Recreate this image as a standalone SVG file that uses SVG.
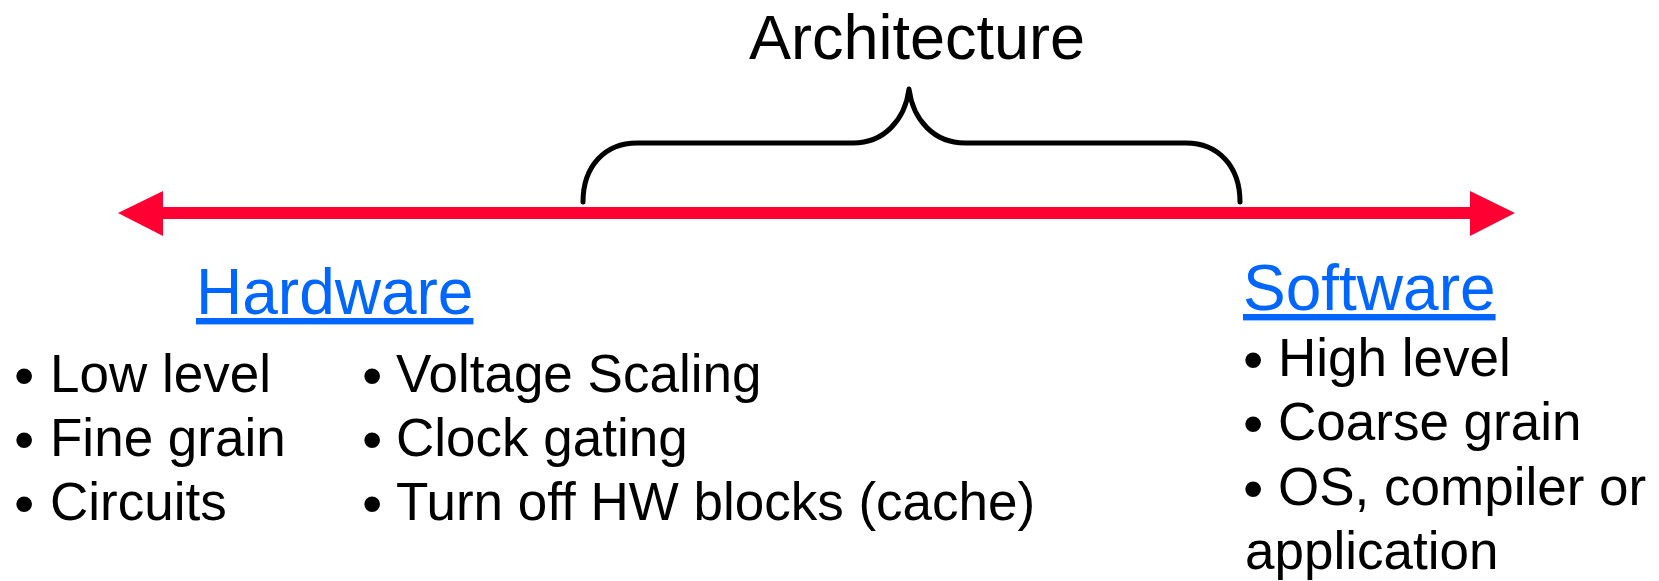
<svg xmlns="http://www.w3.org/2000/svg" width="1659" height="581" viewBox="0 0 1659 581">
<style>
text{font-family:"Liberation Sans",Arial,sans-serif;}
.head{font-size:64px;fill:#0066ff;text-decoration:underline;}
.title{font-size:63px;fill:#000;}
.item{font-size:53px;fill:#000;}
.bul{font-size:58px;}
.brace{fill:none;stroke:#000;stroke-width:5;stroke-linecap:round;stroke-linejoin:round;}
</style>
<rect width="1659" height="581" fill="#fff"/>
<g id="connectors">
<rect x="160" y="207" width="1313" height="12" fill="#ff0033"/>
<polygon points="118,213 163,191 163,236" fill="#ff0033"/>
<polygon points="1515,213 1470,191 1470,236" fill="#ff0033"/>
</g>
<g id="architecture">
<path class="brace" d="M583,202 C583,166 605,143 637,143 L853,143 C884,143 905,120 909,89 C913,120 934,143 965,143 L1186,143 C1218,143 1240,166 1240,202"/>
<text class="title" x="917" y="59" text-anchor="middle">Architecture</text>
</g>
<g id="hardware">
<text class="head" x="196" y="314">Hardware</text>
<text class="item" x="14" y="392"><tspan class="bul" dy="3">•</tspan><tspan x="50" dy="-3">Low level</tspan></text>
<text class="item" x="14" y="456"><tspan class="bul" dy="3">•</tspan><tspan x="50" dy="-3">Fine grain</tspan></text>
<text class="item" x="14" y="520"><tspan class="bul" dy="3">•</tspan><tspan x="50" dy="-3">Circuits</tspan></text>
<text class="item" x="362" y="392"><tspan class="bul" dy="3">•</tspan><tspan x="396" dy="-3">Voltage Scaling</tspan></text>
<text class="item" x="362" y="456"><tspan class="bul" dy="3">•</tspan><tspan x="396" dy="-3">Clock gating</tspan></text>
<text class="item" x="362" y="520"><tspan class="bul" dy="3">•</tspan><tspan x="396" dy="-3">Turn off HW blocks (cache)</tspan></text>
</g>
<g id="software">
<text class="head" x="1243" y="310">Software</text>
<text class="item" x="1243" y="376"><tspan class="bul" dy="3">•</tspan><tspan x="1278" dy="-3">High level</tspan></text>
<text class="item" x="1243" y="440"><tspan class="bul" dy="3">•</tspan><tspan x="1278" dy="-3">Coarse grain</tspan></text>
<text class="item" x="1243" y="505"><tspan class="bul" dy="3">•</tspan><tspan x="1278" dy="-3">OS, compiler or</tspan></text>
<text class="item" x="1245" y="569">application</text>
</g>
</svg>
